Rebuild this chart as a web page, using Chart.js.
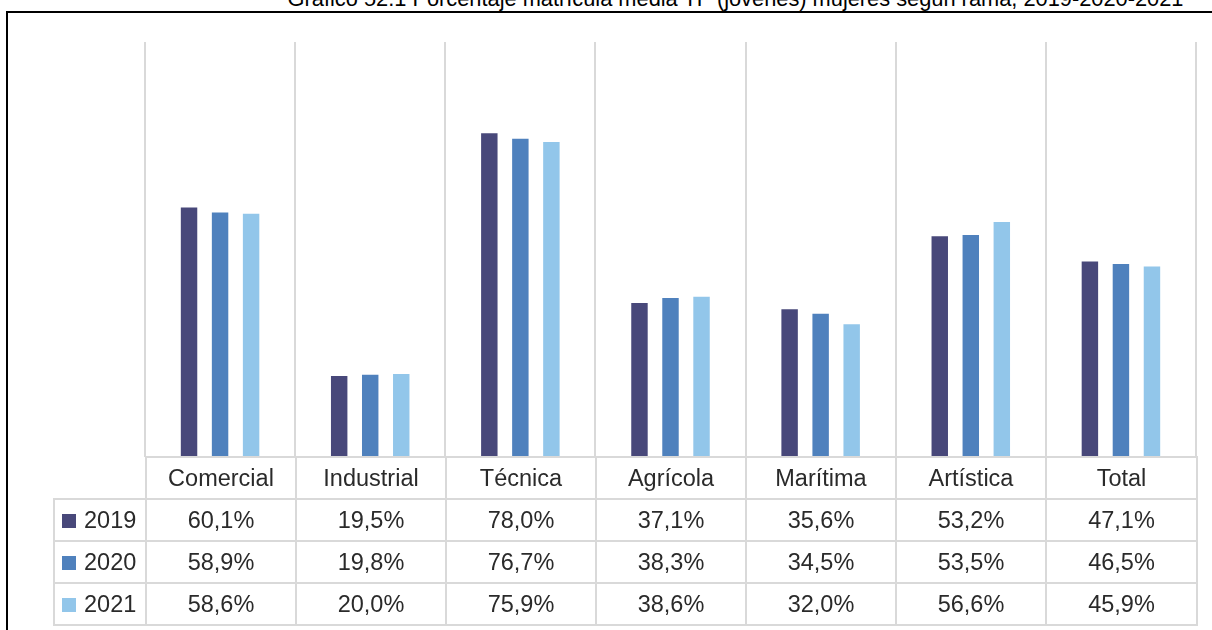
<!DOCTYPE html>
<html lang="es">
<head>
<meta charset="utf-8">
<title>Matrícula media TP mujeres según rama</title>
<script src="https://cdn.jsdelivr.net/npm/chart.js@4.4.1/dist/chart.umd.min.js"></script>
<style>
  html, body { margin: 0; padding: 0; background: #fff; }
  body { width: 1212px; height: 630px; position: relative; overflow: hidden; font-family: "Liberation Sans", Arial, sans-serif; }
  #title {
    position: absolute; left: 240px; width: 991px; top: -12px;
    text-align: center; white-space: nowrap;
    font-family: "Liberation Sans Narrow", "Liberation Sans", sans-serif;
    font-size: 21.8px; line-height: 22px; color: #000;
  }
  #frame {
    position: absolute; left: 6px; top: 11px; width: 1400px; height: 800px;
    border-left: 2px solid #000; border-top: 2px solid #000;
  }
  #chartBox { position: absolute; left: 135px; top: 32px; width: 1071px; height: 425px; }
  #dataTable {
    position: absolute; left: 53px; top: 456px;
    border-collapse: collapse; table-layout: fixed;
    font-size: 23.5px; color: #2a2a2a;
  }
  #dataTable td {
    border: 2px solid #d9d9d9; text-align: center; padding: 0;
    height: 40px; line-height: 22px; white-space: nowrap;
  }
  #dataTable td.corner { border-top: hidden; border-left: hidden; }
  #dataTable td.series { text-align: left; padding-left: 7px; }
  .swatch { display: inline-block; width: 14px; height: 14px; margin-right: 8px; vertical-align: 0px; }
</style>
</head>
<body>
<div id="title">Gráfico 52.1 Porcentaje matrícula media TP (jóvenes) mujeres según rama, 2019-2020-2021</div>
<div id="frame"></div>
<div id="chartBox"><canvas id="barChart"></canvas></div>
<table id="dataTable"></table>

<script>
// Ramas (categorías) y porcentajes por año
const categories = ['Comercial', 'Industrial', 'Técnica', 'Agrícola', 'Marítima', 'Artística', 'Total'];
const years = ['2019', '2020', '2021'];
const values2019 = [60.1, 19.5, 78.0, 37.1, 35.6, 53.2, 47.1];
const values2020 = [58.9, 19.8, 76.7, 38.3, 34.5, 53.5, 46.5];
const values2021 = [58.6, 20.0, 75.9, 38.6, 32.0, 56.6, 45.9];
const seriesValues = [values2019, values2020, values2021];
const seriesColors = ['#48487a', '#4f81bd', '#92c6ea'];

const fmt = (v) => v.toFixed(1).replace('.', ',') + '%';

// Data table under the plot
const buildTable = () => {
  const table = document.getElementById('dataTable');
  let html = '<colgroup><col style="width:92px">';
  categories.forEach((_, i) => {
    html += `<col style="width:${i === categories.length - 1 ? 151 : 150}px">`;
  });
  html += '</colgroup>';

  html += '<tr><td class="corner"></td>';
  categories.forEach(c => { html += `<td>${c}</td>`; });
  html += '</tr>';

  years.forEach((y, s) => {
    html += `<tr><td class="series"><span class="swatch" style="background:${seriesColors[s]}"></span>${y}</td>`;
    seriesValues[s].forEach(v => { html += `<td>${fmt(v)}</td>`; });
    html += '</tr>';
  });
  table.innerHTML = html;
};

// Bar chart
const buildChart = () => {
  const ctx = document.getElementById('barChart').getContext('2d');
  new Chart(ctx, {
    type: 'bar',
    data: {
      labels: categories,
      datasets: years.map((y, s) => ({
        label: y,
        data: seriesValues[s],
        backgroundColor: seriesColors[s],
        borderWidth: 0,
        categoryPercentage: 0.62,
        barPercentage: 0.53
      }))
    },
    options: {
      responsive: true,
      maintainAspectRatio: false,
      animation: false,
      layout: { padding: { left: 10, right: 10, top: 10, bottom: 0 } },
      plugins: {
        legend: { display: false },
        tooltip: { enabled: false },
        title: { display: false }
      },
      scales: {
        x: {
          ticks: { display: false },
          grid: { offset: true, drawTicks: false, color: '#d9d9d9', lineWidth: 2 },
          border: { display: false }
        },
        y: {
          display: false,
          min: 0,
          max: 100
        }
      }
    }
  });
};

buildTable();
buildChart();
</script>
</body>
</html>
